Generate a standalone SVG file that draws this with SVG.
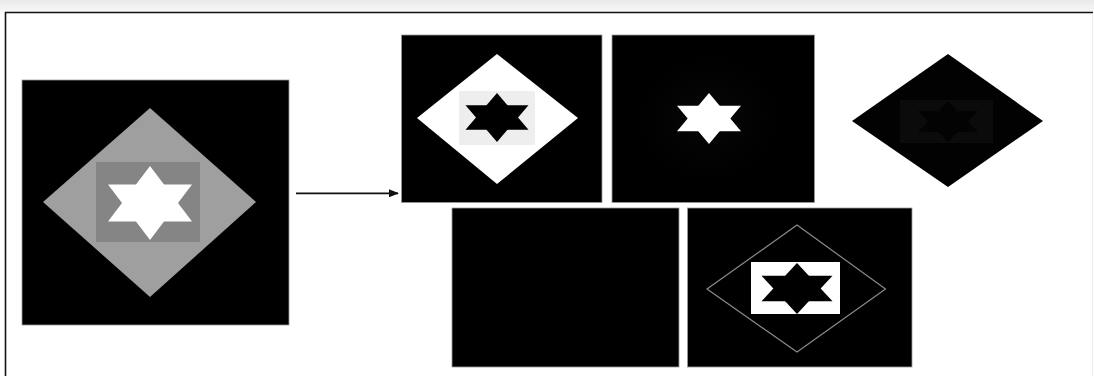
<svg xmlns="http://www.w3.org/2000/svg" width="1094" height="376" viewBox="0 0 1094 376">
  <defs>
    <linearGradient id="topShade" x1="0" y1="0" x2="0" y2="1">
      <stop offset="0" stop-color="#e9e9e9"/>
      <stop offset="1" stop-color="#f7f7f7"/>
    </linearGradient>
    <radialGradient id="glow" cx="0.5" cy="0.5" r="0.5">
      <stop offset="0" stop-color="#070707"/>
      <stop offset="1" stop-color="#000000"/>
    </radialGradient>
    <marker id="arrowHead" viewBox="0 0 10 8" refX="9" refY="4" markerWidth="10" markerHeight="8" markerUnits="userSpaceOnUse" orient="auto">
      <path d="M0,0 L10,4 L0,8 Z" fill="#111"/>
    </marker>
  </defs>
  <style>
    .panel { fill: #000; stroke: #9a9a9a; stroke-width: 0.8; }
    .frame { stroke: #111; stroke-width: 1.6; fill: none; }
    .conn { stroke: #111; stroke-width: 1.8; fill: none; }
  </style>
  <rect x="0" y="0" width="1094" height="376" fill="#fff"/>
  <rect x="0" y="0" width="1094" height="12" fill="url(#topShade)"/>
  <g id="frame">
    <line class="frame" x1="5" y1="12.5" x2="1093" y2="12.5"/>
    <line class="frame" x1="5.5" y1="12" x2="5.5" y2="376"/>
    <line x1="1092.5" y1="14" x2="1092.5" y2="376" stroke="#ececec" stroke-width="1"/>
  </g>

  <g id="input-image">
    <rect class="panel" x="22" y="80" width="267" height="245"/>
    <polygon points="150,108 256,202 150,297 43,202" fill="#9f9f9f"/>
    <rect x="96" y="162" width="104" height="80" fill="#858585"/>
    <polygon points="150,166 108,221.5 192,221.5" fill="#fff"/>
    <polygon points="150,240 108,184.5 192,184.5" fill="#fff"/>
  </g>

  <g id="connectors">
    <line class="conn" x1="296" y1="193.3" x2="398" y2="193.3" marker-end="url(#arrowHead)"/>
  </g>

  <g id="panel-1">
    <rect class="panel" x="401.5" y="35" width="200.5" height="167.5"/>
    <polygon points="497,54 578,118 497,184 417,118" fill="#fff"/>
    <rect x="459" y="91" width="76" height="54" fill="#eeeeee"/>
    <polygon points="497,93 465.5,129.75 528.5,129.75" fill="#000"/>
    <polygon points="497,142 465.5,105.25 528.5,105.25" fill="#000"/>
  </g>

  <g id="panel-2">
    <rect class="panel" x="612" y="35" width="202.5" height="167.5"/>
    <ellipse cx="709" cy="118" rx="70" ry="62" fill="url(#glow)"/>
    <polygon points="709,93 677,131.25 741,131.25" fill="#fff"/>
    <polygon points="709,144 677,105.75 741,105.75" fill="#fff"/>
  </g>

  <g id="panel-3">
    <polygon points="948,54 1043,121 948,187 852,121" fill="#020202"/>
    <rect x="900" y="100" width="93" height="43" fill="#0b0b0b"/>
    <polygon points="948,101 918,132 978,132" fill="#030303"/>
    <polygon points="948,142 918,111 978,111" fill="#030303"/>
  </g>

  <g id="panel-4">
    <rect class="panel" x="452" y="208" width="227" height="159"/>
  </g>

  <g id="panel-5">
    <rect class="panel" x="687.5" y="208" width="224.5" height="159"/>
    <polygon points="797,225 885.5,289 797,352 707,289" fill="none" stroke="#8a8a8a" stroke-width="1.2"/>
    <rect x="751" y="262" width="89" height="52" fill="#fff"/>
    <polygon points="797,263 761.5,301.25 832.5,301.25" fill="#000"/>
    <polygon points="797,314 761.5,275.75 832.5,275.75" fill="#000"/>
  </g>
</svg>
